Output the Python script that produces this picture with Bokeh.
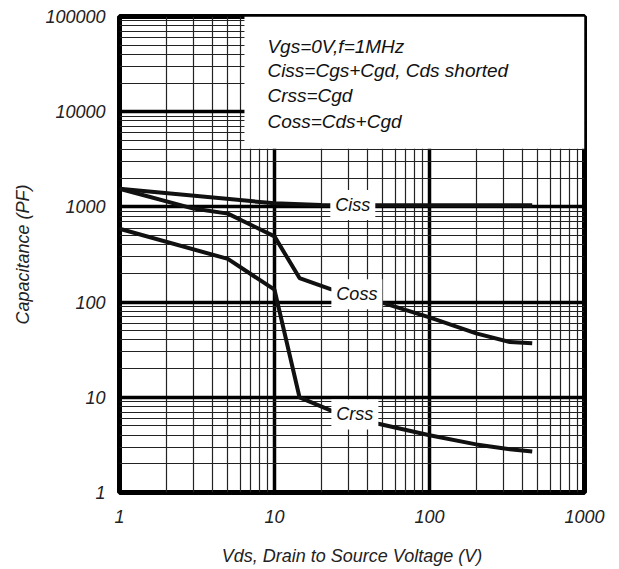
from bokeh.plotting import figure
from bokeh.models import FixedTicker, BoxAnnotation, Label, Range1d, NumeralTickFormatter
from bokeh.embed import file_html
from bokeh.resources import INLINE

# ---- data ----
x_decades = [1, 10, 100, 1000]
y_decades = [1, 10, 100, 1000, 10000, 100000]

ciss_v = [1, 10, 20, 460]
ciss_c = [1550, 1090, 1050, 1040]

coss_v = [1, 3, 5, 10, 14.5, 23, 50, 100, 200, 330, 460]
coss_c = [1550, 960, 850, 490, 179, 137, 98, 69, 47, 38, 37]

crss_v = [1, 5, 10, 14.5, 23, 46, 100, 200, 330, 460]
crss_c = [590, 284, 135, 10, 7.3, 5.3, 4.0, 3.2, 2.84, 2.7]

curve_names = ["Ciss", "Coss", "Crss"]
curve_label_x = [32, 34, 33]
curve_label_y = [1050, 121, 6.6]

legend_lines = ["Vgs=0V,f=1MHz", "Ciss=Cgs+Cgd, Cds shorted", "Crss=Cgd", "Coss=Cds+Cgd"]
legend_y = [48300, 27000, 14700, 7850]
legend_x = 9.0
legend_box = dict(left=6.4, right=1000, bottom=4080, top=100000)

x_title = "Vds, Drain to Source Voltage (V)"
y_title = "Capacitance (PF)"

FONT = "Liberation Sans"
INK = "#111111"

x_minor = [m * d for d in x_decades[:-1] for m in range(2, 10)]
y_minor = [m * d for d in y_decades[:-1] for m in range(2, 10)]

p = figure(width=619, height=569, x_axis_type="log", y_axis_type="log",
           x_range=Range1d(1, 1000), y_range=Range1d(1, 100000),
           output_backend="svg", toolbar_location=None,
           min_border_left=119, min_border_right=35, min_border_top=16,
           min_border_bottom=77)

p.background_fill_color = "white"
p.border_fill_color = "white"
p.outline_line_color = "black"
p.outline_line_width = 5

p.xaxis.ticker = FixedTicker(ticks=x_decades, minor_ticks=x_minor)
p.yaxis.ticker = FixedTicker(ticks=y_decades, minor_ticks=y_minor)
p.xaxis.formatter = NumeralTickFormatter(format="0")
p.yaxis.formatter = NumeralTickFormatter(format="0")

for g in (p.xgrid, p.ygrid):
    g.grid_line_color = "black"
    g.grid_line_width = 3.5
    g.minor_grid_line_color = "#222222"
    g.minor_grid_line_width = 1.2

for ax in (p.xaxis, p.yaxis):
    ax.axis_line_color = None
    ax.major_tick_line_color = None
    ax.minor_tick_line_color = None
    ax.major_label_text_font = FONT
    ax.major_label_text_font_style = "italic"
    ax.major_label_text_font_size = "18px"
    ax.major_label_text_color = "#222222"
    ax.axis_label_text_font = FONT
    ax.axis_label_text_font_style = "italic"
    ax.axis_label_text_font_size = "18px"
    ax.axis_label_text_color = "#222222"

p.xaxis.major_label_standoff = 11
p.yaxis.major_label_standoff = 8
p.xaxis.axis_label = x_title
p.yaxis.axis_label = y_title
p.xaxis.axis_label_standoff = 20
p.yaxis.axis_label_standoff = 9

p.line(ciss_v, ciss_c, line_width=4, color=INK, line_join="round")
p.line(coss_v, coss_c, line_width=4, color=INK, line_join="round")
p.line(crss_v, crss_c, line_width=4, color=INK, line_join="round")

p.add_layout(BoxAnnotation(fill_color="white", fill_alpha=1, line_color=None, **legend_box))

for t, yy in zip(legend_lines, legend_y):
    p.add_layout(Label(x=legend_x, y=yy, text=t, text_font=FONT, text_font_style="italic",
                       text_font_size="19px", text_color="#111111", text_baseline="middle",
                       text_align="left"))

for t, xx, yy in zip(curve_names, curve_label_x, curve_label_y):
    p.add_layout(Label(x=xx, y=yy, text=t, text_font=FONT, text_font_style="italic",
                       text_font_size="18px", text_color="#111111", text_baseline="middle",
                       text_align="center", background_fill_color="white",
                       background_fill_alpha=1, padding=5))

open("out.html", "w").write(file_html(p, INLINE))
